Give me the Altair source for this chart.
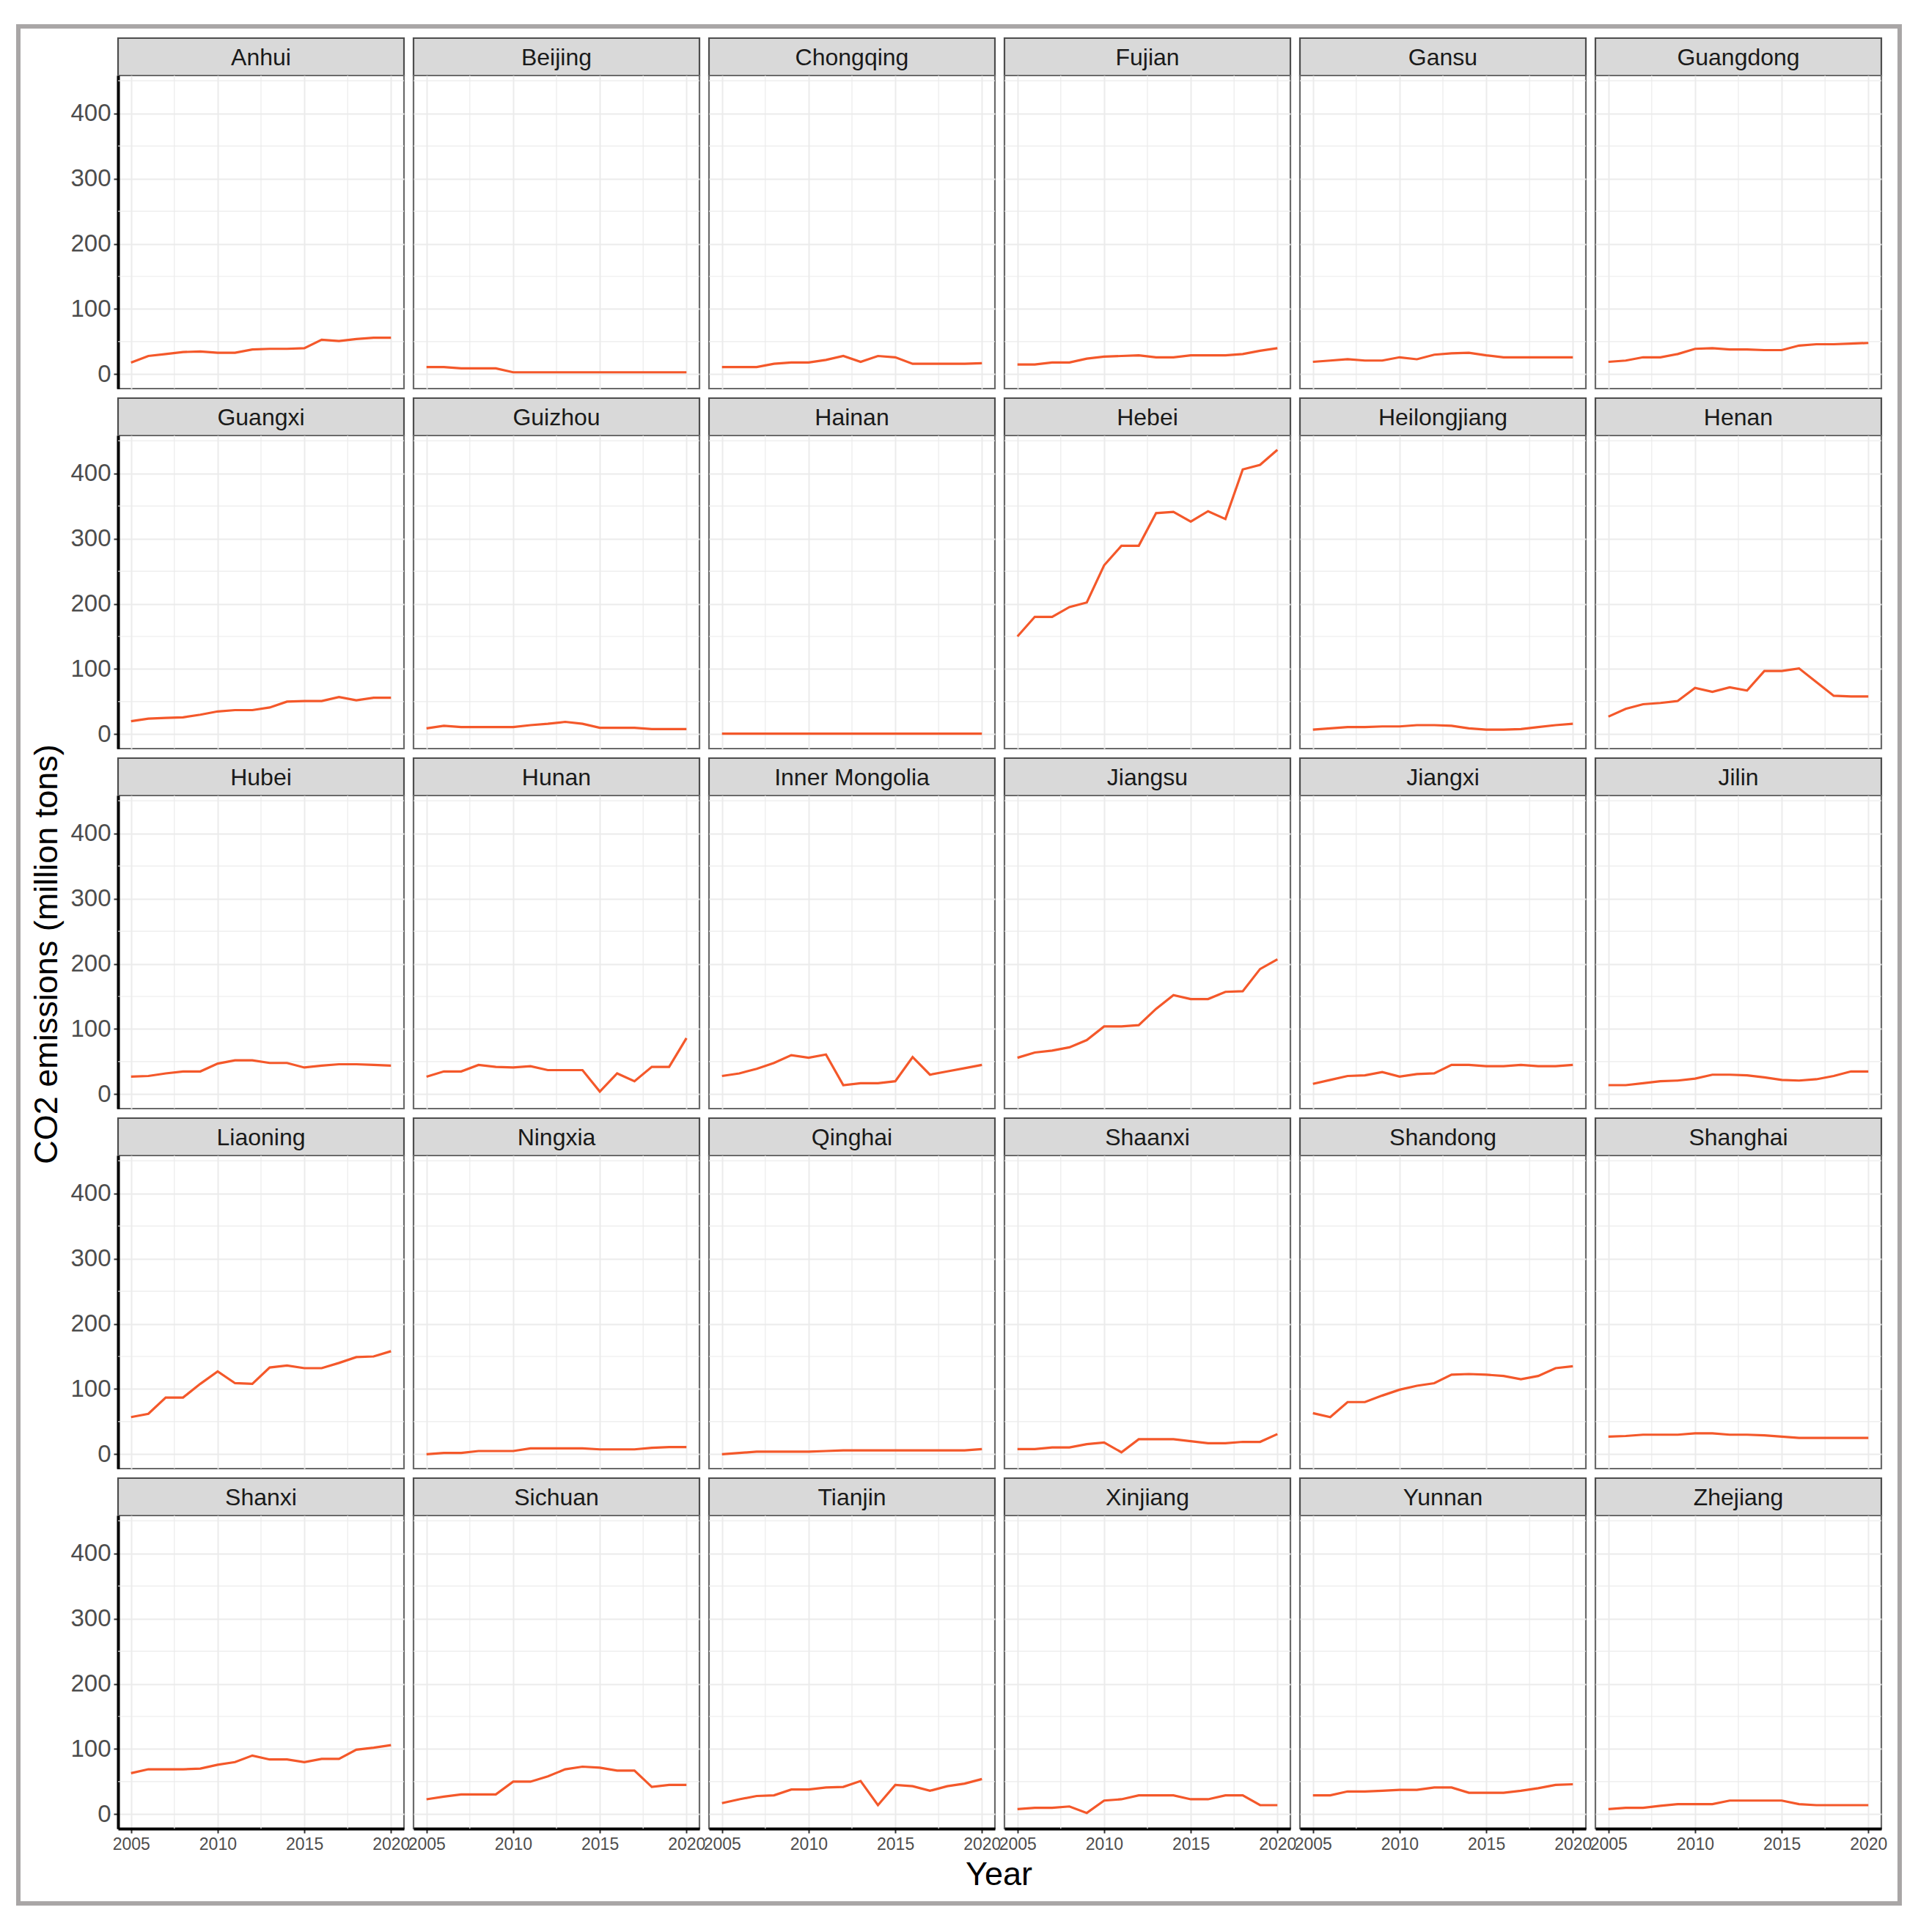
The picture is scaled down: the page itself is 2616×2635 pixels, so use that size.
import altair as alt
import pandas as pd

# ---------------- data ----------------
years = [2005, 2006, 2007, 2008, 2009, 2010, 2011, 2012,
         2013, 2014, 2015, 2016, 2017, 2018, 2019, 2020]

provinces = ["Anhui", "Beijing", "Chongqing", "Fujian", "Gansu", "Guangdong",
             "Guangxi", "Guizhou", "Hainan", "Hebei", "Heilongjiang", "Henan",
             "Hubei", "Hunan", "Inner Mongolia", "Jiangsu", "Jiangxi", "Jilin",
             "Liaoning", "Ningxia", "Qinghai", "Shaanxi", "Shandong", "Shanghai",
             "Shanxi", "Sichuan", "Tianjin", "Xinjiang", "Yunnan", "Zhejiang"]

anhui = [18, 28, 31, 34, 35, 33, 33, 38, 39, 39, 40, 53, 51, 54, 56, 56]
beijing = [11, 11, 9, 9, 9, 3, 3, 3, 3, 3, 3, 3, 3, 3, 3, 3]
chongqing = [11, 11, 11, 16, 18, 18, 22, 28, 19, 28, 26, 16, 16, 16, 16, 17]
fujian = [15, 15, 18, 18, 24, 27, 28, 29, 26, 26, 29, 29, 29, 31, 36, 40]
gansu = [19, 21, 23, 21, 21, 26, 23, 30, 32, 33, 29, 26, 26, 26, 26, 26]
guangdong = [19, 21, 26, 26, 31, 39, 40, 38, 38, 37, 37, 44, 46, 46, 47, 48]
guangxi = [20, 24, 25, 26, 30, 35, 37, 37, 41, 50, 51, 51, 57, 52, 56, 56]
guizhou = [9, 13, 11, 11, 11, 11, 14, 16, 19, 16, 10, 10, 10, 8, 8, 8]
hainan = [1, 1, 1, 1, 1, 1, 1, 1, 1, 1, 1, 1, 1, 1, 1, 1]
hebei = [150, 180, 180, 195, 202, 259, 289, 289, 339, 341, 326, 342, 330, 406, 413, 436]
heilongjiang = [7, 9, 11, 11, 12, 12, 14, 14, 13, 9, 7, 7, 8, 11, 14, 16]
henan = [27, 39, 46, 48, 51, 71, 65, 72, 67, 97, 97, 101, 80, 59, 58, 58]
hubei = [27, 28, 32, 35, 35, 47, 52, 52, 48, 48, 41, 44, 46, 46, 45, 44]
hunan = [27, 35, 35, 45, 42, 41, 43, 37, 37, 37, 4, 32, 20, 42, 42, 86]
inner_mongolia = [28, 32, 39, 48, 60, 56, 61, 14, 17, 17, 20, 57, 30, 35, 40, 45]
jiangsu = [56, 64, 67, 72, 83, 104, 104, 106, 131, 152, 146, 146, 157, 158, 192, 207]
jiangxi = [16, 22, 28, 29, 34, 27, 31, 32, 45, 45, 43, 43, 45, 43, 43, 45]
jilin = [14, 14, 17, 20, 21, 24, 30, 30, 29, 26, 22, 21, 23, 28, 35, 35]
liaoning = [57, 62, 87, 87, 108, 127, 109, 108, 133, 136, 132, 132, 140, 149, 150, 158]
ningxia = [0, 2, 2, 5, 5, 5, 9, 9, 9, 9, 7.5, 7.5, 7.5, 10, 11, 11]
qinghai = [0, 2, 4, 4, 4, 4, 5, 6, 6, 6, 6, 6, 6, 6, 6, 8]
shaanxi = [8, 8, 10.5, 10.5, 15.5, 18, 3, 23, 23, 23, 20, 17, 17, 19, 19, 31]
shandong = [63, 57, 80, 80, 90, 99, 105, 109, 122, 123, 122, 120, 115, 120, 132, 135]
shanghai = [27, 28, 30, 30, 30, 32, 32, 30, 30, 29, 27, 25, 25, 25, 25, 25]
shanxi = [63, 69, 69, 69, 70, 76, 80, 90, 84, 84, 80, 85, 85, 99, 102, 106]
sichuan = [23, 27, 30.5, 30.5, 30.5, 50, 50, 58, 69, 73, 71.5, 67, 67, 42, 45, 45]
tianjin = [17, 23, 28, 29, 38, 38, 41, 42, 51, 14, 45, 43, 36, 43, 47, 54]
xinjiang = [8, 10, 10, 12, 2, 21, 23, 29, 29, 29, 23, 23, 29, 29, 14, 14]
yunnan = [29, 29, 35, 35, 36, 37.5, 37.5, 41, 41, 33, 33, 33, 36, 40, 45, 46]
zhejiang = [8, 10, 10, 13, 15.5, 15.5, 15.5, 21, 21, 21, 21, 15.5, 14, 14, 14, 14]

series = {
    "Anhui": anhui, "Beijing": beijing, "Chongqing": chongqing, "Fujian": fujian,
    "Gansu": gansu, "Guangdong": guangdong, "Guangxi": guangxi, "Guizhou": guizhou,
    "Hainan": hainan, "Hebei": hebei, "Heilongjiang": heilongjiang, "Henan": henan,
    "Hubei": hubei, "Hunan": hunan, "Inner Mongolia": inner_mongolia,
    "Jiangsu": jiangsu, "Jiangxi": jiangxi, "Jilin": jilin, "Liaoning": liaoning,
    "Ningxia": ningxia, "Qinghai": qinghai, "Shaanxi": shaanxi,
    "Shandong": shandong, "Shanghai": shanghai, "Shanxi": shanxi,
    "Sichuan": sichuan, "Tianjin": tianjin, "Xinjiang": xinjiang,
    "Yunnan": yunnan, "Zhejiang": zhejiang,
}

x_major = [2005, 2010, 2015, 2020]
x_minor = [2007.5, 2012.5, 2017.5]
y_major = [0, 100, 200, 300, 400]
y_minor = [50, 150, 250, 350, 450]
x_domain = [2004.25, 2020.75]
y_domain = [-22, 458]

# ---------------- style ----------------
FONT = "Liberation Sans"
LINE = "#F4582A"
GRID = "#EBEBEB"
BORDER = "#6A6A6A"
W, H = 390, 427
GAP = 13
STRIP_H = 64
NCOL = 6


def strip_chart(name, with_frame=False):
    d = pd.DataFrame({"p": [name]})
    base = alt.Chart(d)
    layers = []
    if with_frame:
        layers.append(
            base.mark_rect(filled=False, stroke="#A9A6A6", strokeWidth=6).encode(
                x=alt.value(-136), x2=alt.value(2430),
                y=alt.value(-3), y2=alt.value(2557))
        )
    layers.append(
        base.mark_rect(fill="#D9D9D9", stroke="#4D4D4D", strokeWidth=2.2).encode(
            x=alt.value(0), x2=alt.value(W), y=alt.value(GAP), y2=alt.value(STRIP_H))
    )
    layers.append(
        base.mark_text(font=FONT, fontSize=32, color="#1A1A1A",
                       align="center", baseline="middle").encode(
            text="p:N", x=alt.value(W / 2), y=alt.value(GAP + (STRIP_H - GAP) / 2 + 1))
    )
    return alt.layer(*layers).properties(
        width=W, height=STRIP_H,
        view=alt.ViewBackground(stroke="transparent"))


def panel(name, ci, ri):
    df = pd.DataFrame({"year": years, "value": series[name]})
    xs = alt.Scale(domain=x_domain, nice=False, zero=False)
    ys = alt.Scale(domain=y_domain, nice=False, zero=False)
    left = ci == 0
    bottom = ri == 4

    xkw = dict(values=x_major, grid=True, gridColor=GRID, gridWidth=2,
               labels=bottom, ticks=bottom, domain=bottom,
               domainColor="black", domainWidth=4,
               tickColor="#333333", tickSize=6, tickWidth=2,
               labelFont=FONT, labelFontSize=23, labelColor="#4D4D4D",
               labelPadding=4, labelFlush=False, format="d", title=None)
    if bottom and ci == 2:
        xkw.update(title="Year", titleFont=FONT, titleFontSize=45,
                   titleFontWeight="normal", titleColor="black",
                   titleX=395, titleY=62, titleAlign="center",
                   titleBaseline="middle")
    ykw = dict(values=y_major, grid=True, gridColor=GRID, gridWidth=2,
               labels=left, ticks=left, domain=left,
               domainColor="black", domainWidth=4,
               tickColor="#333333", tickSize=6, tickWidth=2,
               labelFont=FONT, labelFontSize=33, labelColor="#4D4D4D",
               labelPadding=4, format="d", title=None)
    if left and ri == 2:
        ykw.update(title="CO2 emissions (million tons)", titleFont=FONT,
                   titleFontSize=45, titleFontWeight="normal",
                   titleColor="black", titleAngle=270,
                   titleX=-98, titleY=216, titleAlign="center",
                   titleBaseline="middle")

    mx = alt.Chart(pd.DataFrame({"v": x_minor})).mark_rule(
        color=GRID, strokeWidth=1.2).encode(x=alt.X("v:Q", scale=xs))
    my = alt.Chart(pd.DataFrame({"v": y_minor})).mark_rule(
        color=GRID, strokeWidth=1.2).encode(y=alt.Y("v:Q", scale=ys))
    ln = alt.Chart(df).mark_line(color=LINE, strokeWidth=3.2).encode(
        x=alt.X("year:Q", scale=xs, axis=alt.Axis(**xkw)),
        y=alt.Y("value:Q", scale=ys, axis=alt.Axis(**ykw)),
    )
    return alt.layer(mx, my, ln).properties(
        width=W, height=H,
        view=alt.ViewBackground(stroke=BORDER, strokeWidth=2.2))


charts = []
for ri in range(5):
    row = provinces[ri * NCOL:(ri + 1) * NCOL]
    for ci, name in enumerate(row):
        charts.append(strip_chart(name, with_frame=(ri == 0 and ci == 0)))
    for ci, name in enumerate(row):
        charts.append(panel(name, ci, ri))

chart = alt.concat(
    *charts, columns=NCOL, spacing={"row": 0, "column": 13}, bounds="flush"
).properties(
    padding={"left": 13, "top": 24, "right": 5, "bottom": 5},
    background="white",
).configure_view(
    stroke=BORDER, strokeWidth=2.2
).configure(font=FONT)

chart.save("out.html", embed_options={"renderer": "svg", "actions": False})
